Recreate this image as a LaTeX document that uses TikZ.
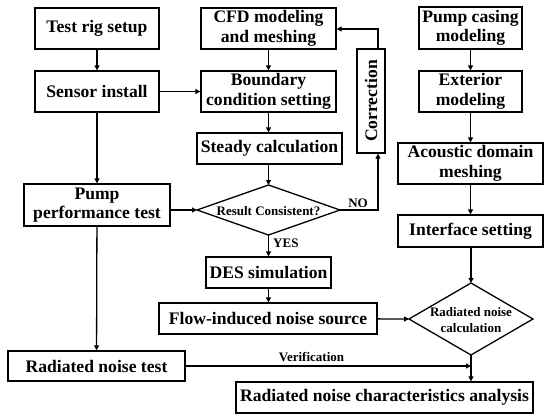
\documentclass[tikz,border=0pt]{standalone}
\usepackage{fontspec}
\setmainfont{Liberation Serif}
\usetikzlibrary{shapes.geometric,arrows.meta}
\begin{document}
\begin{tikzpicture}[x=1pt,y=-1pt,
  every node/.style={font=\bfseries\fontsize{17.6}{19.5}\selectfont},
  box/.style={draw,line width=1.3pt,inner sep=0pt,align=center},
  lbl/.style={font=\bfseries\fontsize{13}{15}\selectfont,inner sep=1pt},
  conn/.style={line width=1.3pt,-{Triangle[length=5pt,width=5pt]}},
  shapeline/.style={line width=1.3pt,line join=miter}]
\useasboundingbox (0,0) rectangle (550,418);
% left column
\node[box,minimum width=124pt,minimum height=41pt] (rig) at (97,28.5) {Test rig setup};
\node[box,minimum width=124pt,minimum height=41pt] (sensor) at (97,91.5) {Sensor install};
\node[box,minimum width=146pt,minimum height=42pt] (perf) at (97,205) {Pump\\performance test};
\node[box,minimum width=177pt,minimum height=30pt] (radtest) at (96.5,366) {Radiated noise test};
% middle column
\node[box,minimum width=135pt,minimum height=41pt] (cfd) at (268.5,28.5) {CFD modeling\\and meshing};
\node[box,minimum width=135pt,minimum height=41pt] (bound) at (268.5,91.5) {Boundary\\condition setting};
\node[box,minimum width=145pt,minimum height=31pt] (steady) at (269.5,148.5) {Steady calculation};
\draw[shapeline] (197,210) coordinate (resW) -- (268.5,185) coordinate (resN) -- (340,210) coordinate (resE) -- (268.5,235) coordinate (resS) -- cycle;
\node[lbl] (reslabel) at (268.5,211) {Result Consistent?};
\node[box,minimum width=125pt,minimum height=31pt] (des) at (268.5,272.5) {DES simulation};
\node[box,minimum width=218pt,minimum height=31pt] (flow) at (268,318.5) {Flow-induced noise source};
\node[box,minimum width=28pt,minimum height=104pt] (corr) at (371,101) {};
\node[rotate=90] (corrlabel) at (371,101) {Correction};
% right column
\node[box,minimum width=103pt,minimum height=42pt] (casing) at (470.5,28) {Pump casing\\modeling};
\node[box,minimum width=103pt,minimum height=41pt] (ext) at (470.5,91.5) {Exterior\\modeling};
\node[box,minimum width=145pt,minimum height=41pt] (acou) at (470.5,163.5) {Acoustic domain\\meshing};
\node[box,minimum width=145pt,minimum height=32pt] (iface) at (470.5,231) {Interface setting};
\draw[shapeline] (409,319) coordinate (ncW) -- (471,283) coordinate (ncN) -- (533,319) coordinate (ncE) -- (471,355) coordinate (ncS) -- cycle;
\node[lbl,align=center,font=\bfseries\fontsize{13}{16}\selectfont] (nclabel) at (471,320) {Radiated noise\\calculation};
\node[box,minimum width=297pt,minimum height=31pt] (ana) at (384.5,397.5) {Radiated noise characteristics analysis};
% connectors
\draw[conn] (rig) -- (sensor);
\draw[conn] (sensor) -- (bound);
\draw[conn] (sensor) -- (perf);
\draw[conn] (perf) -- (radtest);
\draw[conn] (perf.east |- resW) -- (resW);
\draw[conn] (cfd) -- (bound);
\draw[conn] (bound) -- (steady.north -| bound.south);
\draw[conn] (steady.south -| resN) -- (resN);
\draw[conn] (resS) -- (des.north -| resS);
\node[lbl,anchor=west] (yes) at (272,243) {YES};
\draw[conn] (des) -- (flow.north -| des.south);
\draw[conn] (flow) -- (ncW);
\coordinate (cb) at (378,210);
\draw[conn] (resE) -- (cb) -- (cb |- corr.south);
\node[lbl] (no) at (358,203) {NO};
\coordinate (ct) at (378,29);
\draw[conn] (ct |- corr.north) -- (ct) -- (cfd.east |- ct);
\draw[conn] (casing) -- (ext);
\draw[conn] (ext) -- (acou.north -| ext.south);
\draw[conn] (acou) -- (iface);
\draw[conn] (iface.south -| ncN) -- (ncN);
\draw[conn] (ncS) -- (ana.north -| ncS);
\coordinate (vend) at (ncS |- radtest.east);
\draw[conn] (radtest.east) -- (vend);
\node[lbl] (verif) at (311.5,357) {Verification};
\end{tikzpicture}
\end{document}
